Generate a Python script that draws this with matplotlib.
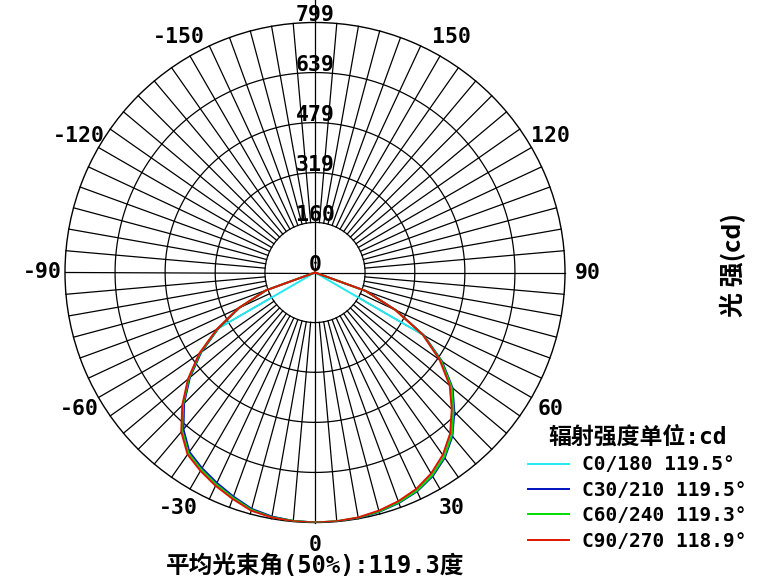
import numpy as np
import matplotlib
matplotlib.use("Agg")
import matplotlib.pyplot as plt

# ---------------- datos ----------------
# angulos gamma (grados), de -90 a 90 cada 5
angles = list(range(-90, 95, 5))

# intensidad (cd) por plano C (lado -90..0 y lado 5..90)
c0_180 = [0, 0, 0, 0, 0, 0, 360, 446, 524, 594, 656, 702, 724, 744, 763, 783, 793, 797, 799,
          798, 796, 790, 781, 768, 747, 718, 678, 624, 568, 490, 398, 0, 0, 0, 0, 0, 0]
c30_210 = [0, 0, 0, 0, 165, 266, 356, 444, 522, 592, 654, 700, 722, 742, 762, 782, 792, 797, 799,
           799, 797, 792, 784, 772, 752, 723, 683, 630, 574, 496, 402, 286, 174, 0, 0, 0, 0]
c60_240 = [0, 0, 0, 0, 166, 268, 358, 448, 526, 596, 660, 705, 727, 747, 766, 785, 794, 797, 799,
           798, 796, 791, 782, 770, 749, 720, 680, 626, 570, 492, 400, 284, 172, 0, 0, 0, 0]
c90_270 = [0, 0, 0, 0, 168, 271, 362, 452, 530, 600, 665, 710, 732, 752, 770, 788, 795, 798, 799,
           798, 795, 788, 778, 764, 742, 712, 672, 618, 562, 486, 398, 283, 172, 0, 0, 0, 0]

series = [c0_180, c30_210, c60_240, c90_270]
planes = ["C0/180", "C30/210", "C60/240", "C90/270"]
beam_angles = [119.5, 119.5, 119.3, 118.9]
colors = ["#22e8f0", "#0010c0", "#00dd00", "#dd1500"]

r_ticks = [160, 319, 479, 639, 799]
theta_labels = [0, 30, 60, 90, 120, 150, -150, -120, -90, -60, -30]
mean_beam = 119.3
r_max = 799

mono = ["DejaVu Sans Mono", "Noto Sans CJK SC"]
cjk = ["Noto Sans CJK SC", "DejaVu Sans"]

fig = plt.figure(figsize=(7.57, 5.81), dpi=100)
ax = fig.add_axes([65 / 757, 58.5 / 581, 500 / 757, 500 / 581], projection="polar")
ax.set_theta_zero_location("S")
ax.set_theta_direction(1)
ax.set_ylim(0, r_max)
ax.grid(False)
ax.set_xticks([])
ax.set_yticks([])
ax.spines["polar"].set_linewidth(1.0)
ax.spines["polar"].set_color("black")

# rejilla propia: anillos y radios cada 5 grados
tt = np.linspace(0, 2 * np.pi, 400)
for r in r_ticks[:-1]:
    ax.plot(tt, np.full_like(tt, r), color="black", lw=0.9, zorder=1)
for a in range(0, 360, 5):
    rad = np.deg2rad(a)
    r0 = 0 if a % 90 == 0 else r_ticks[0]
    r1 = r_max * 1.09 if a == 180 else r_max
    ax.plot([rad, rad], [r0, r1], color="black", lw=0.9, zorder=1, clip_on=False)

# curvas
th = np.deg2rad(angles)
lines = []
for vals, col in zip(series, colors):
    ln, = ax.plot(th, vals, color=col, lw=1.4, zorder=3)
    lines.append(ln)

# etiquetas angulares
for a in theta_labels:
    ax.text(np.deg2rad(a), r_max * 1.09, str(a), ha="center", va="center",
            family=mono, fontweight="bold", fontsize=15.5, clip_on=False)

# etiquetas radiales en la parte superior
for r in [0] + r_ticks:
    ax.text(np.pi, r + 4, str(r), ha="center", va="baseline",
            family=mono, fontweight="bold", fontsize=15.5, zorder=4)

fig.text(0.968, 0.544, "光 强(cd)", rotation=90, ha="center", va="center",
         family=cjk, fontsize=18, fontweight="bold")

fig.text(315 / 757, 1 - 566 / 581, "平均光束角(50%%):%.1f度" % mean_beam,
         ha="center", va="center", family=mono, fontsize=17, fontweight="bold")

labels = ["%s %.1f°" % (p, b) for p, b in zip(planes, beam_angles)]
leg = fig.legend(lines, labels, loc="upper left", bbox_to_anchor=(528 / 757, 1 - 426 / 581),
                 frameon=False, title="辐射强度单位:cd", handlelength=2.1, handletextpad=0.7,
                 labelspacing=0.33, borderaxespad=0, borderpad=0,
                 prop={"family": mono, "weight": "bold", "size": 14},
                 title_fontproperties={"family": mono, "weight": "bold", "size": 16.5})

fig.savefig("out.png", dpi=100)
